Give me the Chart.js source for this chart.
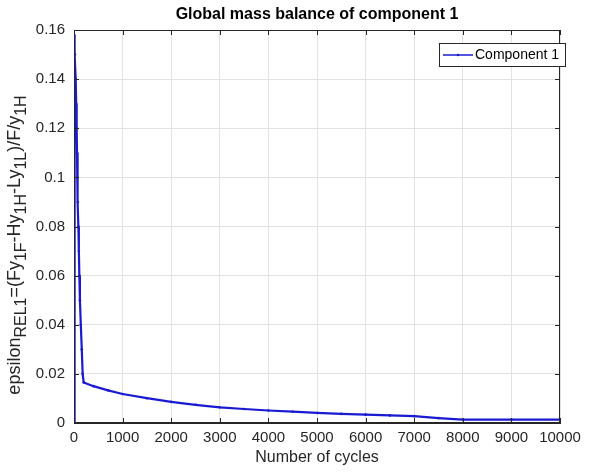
<!DOCTYPE html>
<html>
<head>
<meta charset="utf-8">
<script src="https://cdn.jsdelivr.net/npm/chart.js@4.4.1/dist/chart.umd.min.js"></script>
<style>
  html, body { margin: 0; padding: 0; background: #ffffff; }
  #wrap { width: 598px; height: 475px; }
</style>
</head>
<body>
<div id="wrap"><canvas id="massBalanceChart" width="598" height="475"></canvas></div>
<script>
// cycle number and relative mass balance error of component 1
const cycles = [0, 5, 20, 35, 45, 55, 62, 68, 80, 90, 100, 110, 122, 140, 160, 178,
  200, 400, 700, 1000, 1500, 2000, 2500, 3000, 3500, 4000, 4500, 5000, 5500,
  6000, 6500, 7000, 7500, 8000, 9000, 10000];
const epsilonRel1 = [0, 0.158, 0.150, 0.140, 0.130, 0.120, 0.110, 0.100, 0.090, 0.080,
  0.070, 0.060, 0.050, 0.040, 0.030, 0.020,
  0.0165, 0.0150, 0.0133, 0.0118, 0.0101, 0.0086, 0.0074, 0.0064, 0.0057, 0.0051,
  0.0046, 0.0041, 0.0037, 0.0034, 0.0031, 0.0028, 0.0020, 0.0014, 0.0014, 0.0014];

const xTicks = [0, 1000, 2000, 3000, 4000, 5000, 6000, 7000, 8000, 9000, 10000];
const yTicks = [0, 0.02, 0.04, 0.06, 0.08, 0.1, 0.12, 0.14, 0.16];

const titleText = "Global mass balance of component 1";
const xLabel = "Number of cycles";
// y label pieces: [text, isSubscript]
const yLabelParts = [["epsilon", 0], ["REL1", 1], ["=(Fy", 0], ["1F", 1], ["-Hy", 0],
  ["1H", 1], ["-Ly", 0], ["1L", 1], [")/F/y", 0], ["1H", 1]];
const seriesName = "Component 1";

const FONT = "'Liberation Sans', Arial, Helvetica, sans-serif";
const AXIS_COLOR = "#262626";
const LINE_COLOR = "#1a1ad2";

const points = cycles.map((c, i) => ({ x: c, y: epsilonRel1[i] }));

// frame, inward ticks, title, y label and legend in the MATLAB look
const figureDecor = {
  id: "figureDecor",
  afterDraw(chart) {
    const ctx = chart.ctx;
    const a = chart.chartArea;
    const xs = chart.scales.x, ys = chart.scales.y;
    ctx.save();

    // box around the axes
    ctx.strokeStyle = AXIS_COLOR;
    ctx.lineWidth = 1;
    ctx.strokeRect(a.left + 0.5, a.top + 0.5, a.right - a.left - 1, a.bottom - a.top - 1);

    // inward ticks
    ctx.beginPath();
    xTicks.forEach(v => {
      const px = Math.round(xs.getPixelForValue(v)) + 0.5;
      ctx.moveTo(px, a.bottom); ctx.lineTo(px, a.bottom - 5);
      ctx.moveTo(px, a.top); ctx.lineTo(px, a.top + 5);
    });
    yTicks.forEach(v => {
      const py = Math.round(ys.getPixelForValue(v)) + 0.5;
      ctx.moveTo(a.left, py); ctx.lineTo(a.left + 5, py);
      ctx.moveTo(a.right, py); ctx.lineTo(a.right - 5, py);
    });
    ctx.stroke();

    // title
    ctx.fillStyle = "#000000";
    ctx.font = "bold 16px " + FONT;
    ctx.textAlign = "center";
    ctx.textBaseline = "middle";
    ctx.fillText(titleText, (a.left + a.right) / 2, 15);

    // x label
    ctx.fillStyle = AXIS_COLOR;
    ctx.font = "16px " + FONT;
    ctx.fillText(xLabel, (a.left + a.right) / 2, 458);

    // y label with subscripts, rotated
    const mainFont = "18px " + FONT, subFont = "16px " + FONT;
    let total = 0;
    yLabelParts.forEach(p => {
      ctx.font = p[1] ? subFont : mainFont;
      total += ctx.measureText(p[0]).width;
    });
    ctx.translate(15, 245);
    ctx.rotate(-Math.PI / 2);
    ctx.textAlign = "left";
    ctx.textBaseline = "middle";
    let cx = -total / 2;
    yLabelParts.forEach(p => {
      ctx.font = p[1] ? subFont : mainFont;
      ctx.fillText(p[0], cx, p[1] ? 7 : 0);
      cx += ctx.measureText(p[0]).width;
    });
    ctx.setTransform(1, 0, 0, 1, 0, 0);

    // legend
    const bx = 439, by = 43, bw = 126, bh = 23;
    ctx.fillStyle = "#ffffff";
    ctx.fillRect(bx, by, bw, bh);
    ctx.strokeStyle = AXIS_COLOR;
    ctx.lineWidth = 1;
    ctx.strokeRect(bx + 0.5, by + 0.5, bw, bh);
    ctx.strokeStyle = LINE_COLOR;
    ctx.lineWidth = 1.5;
    ctx.beginPath();
    ctx.moveTo(bx + 4, by + 12); ctx.lineTo(bx + 34, by + 12);
    ctx.stroke();
    ctx.fillStyle = LINE_COLOR;
    ctx.beginPath();
    ctx.arc(bx + 19, by + 12, 1.2, 0, Math.PI * 2);
    ctx.fill();
    ctx.fillStyle = "#000000";
    ctx.font = "14px " + FONT;
    ctx.textAlign = "left";
    ctx.fillText(seriesName, bx + 36, by + 12);

    ctx.restore();
  }
};

new Chart(document.getElementById("massBalanceChart"), {
  type: "line",
  data: {
    datasets: [{
      label: seriesName,
      data: points,
      borderColor: LINE_COLOR,
      backgroundColor: LINE_COLOR,
      borderWidth: 2.2,
      pointRadius: 1.3,
      pointHoverRadius: 1.3,
      pointBorderWidth: 0,
      tension: 0
    }]
  },
  options: {
    responsive: false,
    animation: false,
    events: [],
    layout: { padding: { top: 30, right: 38, left: 0, bottom: 0 } },
    plugins: {
      legend: { display: false },
      title: { display: false },
      tooltip: { enabled: false }
    },
    scales: {
      x: {
        type: "linear",
        min: 0,
        max: 10000,
        afterBuildTicks: s => { s.ticks = xTicks.map(v => ({ value: v })); },
        afterFit: s => { s.height = 52; },
        grid: { color: "#e2e2e2", drawTicks: false },
        border: { color: AXIS_COLOR },
        ticks: {
          padding: 6,
          color: AXIS_COLOR,
          font: { family: FONT, size: 15 },
          maxRotation: 0,
          callback: v => String(v)
        }
      },
      y: {
        type: "linear",
        min: 0,
        max: 0.16,
        afterBuildTicks: s => { s.ticks = yTicks.map(v => ({ value: v })); },
        afterFit: s => { s.width = 74; },
        grid: { color: "#e2e2e2", drawTicks: false },
        border: { color: AXIS_COLOR },
        ticks: {
          padding: 9,
          color: AXIS_COLOR,
          font: { family: FONT, size: 15 },
          callback: v => String(+v.toFixed(2))
        }
      }
    }
  },
  plugins: [figureDecor]
});
</script>
</body>
</html>
